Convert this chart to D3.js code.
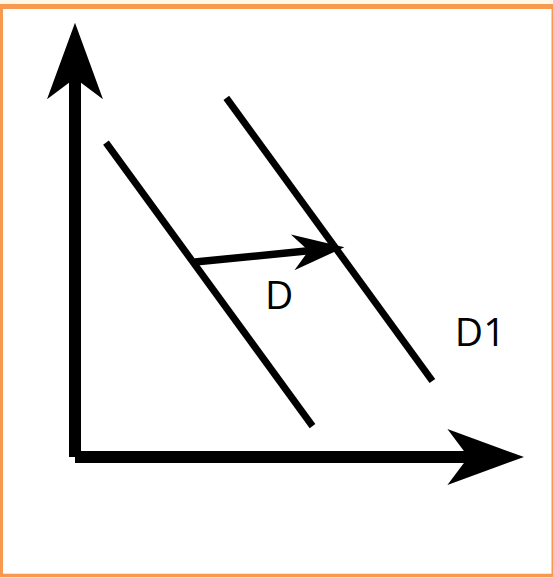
<!DOCTYPE html>
<html>
<head>
<meta charset="utf-8">
<script src="https://cdn.jsdelivr.net/npm/d3@7"></script>
<style>
  body { margin: 0; background: #fff; }
  svg { display: block; }
  .label { font-family: "Open Sans", sans-serif; font-size: 39px; fill: #000; }
</style>
</head>
<body>
<script>
// axis space (0..100 on both axes)
var axisEnds = [[0, 0], [100, 100]];

// demand curves: [start, end] in axis units
var curveNames = ["D", "D1"];
var curveStart = [[6.9, 72.4], [33.7, 82.7]];
var curveEnd = [[52.9, 7.1], [79.6, 17.5]];

// label positions (axis units, baseline-left)
var labelPos = [[42.3, 34.0], [84.6, 25.5]];

// shift arrow from D to D1
var shiftFrom = [26.7, 44.9];
var shiftTo = [60.0, 48.3];

var width = 553, height = 578;

var svg = d3.select("body").append("svg")
    .attr("width", width)
    .attr("height", height);

// frame
svg.append("rect").attr("x", 0).attr("y", 0).attr("width", width).attr("height", 4).attr("fill", "#fff8e6");
svg.append("rect").attr("x", 0).attr("y", 4).attr("width", width).attr("height", 573.3).attr("fill", "#f79a4f");
svg.append("rect").attr("x", 3).attr("y", 9).attr("width", 548.5).attr("height", 564.7).attr("fill", "#fff");

var x = d3.scaleLinear().domain([0, 100]).range([75, 524]);
var y = d3.scaleLinear().domain([0, 100]).range([457, 22.7]);

// arrowhead polygon, tip at origin pointing along +x
function head(len, half, notch) {
    return [[0, 0], [-len, -half], [-notch, 0], [-len, half]];
}

function drawArrow(p0, p1, sw, h) {
    var x0 = x(p0[0]), y0 = y(p0[1]), x1 = x(p1[0]), y1 = y(p1[1]);
    var ang = Math.atan2(y1 - y0, x1 - x0);
    var dist = Math.hypot(x1 - x0, y1 - y0);
    var g = svg.append("g")
        .attr("transform", "translate(" + x0 + "," + y0 + ") rotate(" + (ang * 180 / Math.PI) + ")");
    // shaft runs a little into the head so no gap shows at the notch
    g.append("line")
        .attr("x1", 0).attr("y1", 0)
        .attr("x2", dist - h[2] + 10).attr("y2", 0)
        .attr("stroke", "#000").attr("stroke-width", sw);
    g.append("polygon")
        .attr("points", head(h[0], h[1], h[2]).map(function(p) { return (p[0] + dist) + "," + p[1]; }).join(" "))
        .attr("fill", "#000");
}

// axes
drawArrow(axisEnds[0], [axisEnds[0][0], axisEnds[1][1]], 12, [76.6, 28, 55.6]);
drawArrow(axisEnds[0], [axisEnds[1][0], axisEnds[0][1]], 12, [76.6, 28, 55.6]);

// demand curves
curveNames.forEach(function(name, i) {
    svg.append("line")
        .attr("x1", x(curveStart[i][0])).attr("y1", y(curveStart[i][1]))
        .attr("x2", x(curveEnd[i][0])).attr("y2", y(curveEnd[i][1]))
        .attr("stroke", "#000").attr("stroke-width", 7);
    svg.append("text").classed("label", true)
        .attr("x", x(labelPos[i][0])).attr("y", y(labelPos[i][1]))
        .text(name);
});

// shift arrow
drawArrow(shiftFrom, shiftTo, 7.5, [52, 18, 36]);
</script>
</body>
</html>
